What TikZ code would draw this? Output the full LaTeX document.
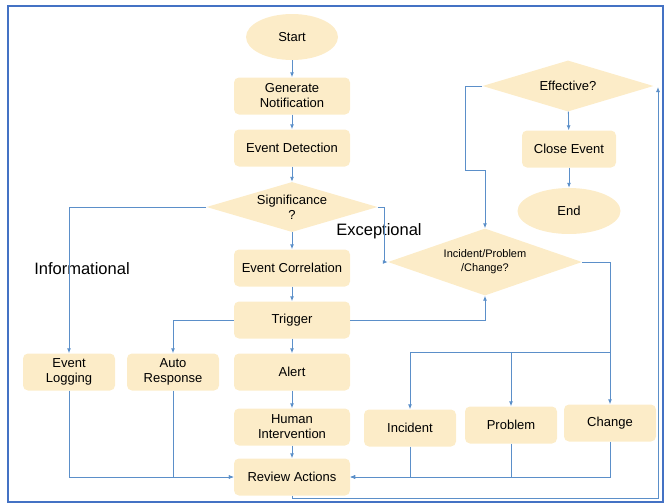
\documentclass[tikz,border=0pt]{standalone}
\usepackage{fontspec}
\setmainfont{Liberation Sans}
\usetikzlibrary{arrows.meta,shapes.geometric}
\definecolor{boxfill}{HTML}{FCECC8}
\definecolor{linkblue}{HTML}{5B8FC9}
\definecolor{frameblue}{HTML}{4472C4}
\begin{document}
\begin{tikzpicture}[x=1pt,y=-1pt,
  proc/.style={fill=boxfill, rounded corners=5pt, minimum width=116pt,
    minimum height=37pt, align=center, inner sep=1pt,
    font=\fontsize{13}{15}\selectfont},
  smallproc/.style={proc, minimum width=92pt},
  term/.style={ellipse, fill=boxfill, minimum width=92pt, minimum height=46pt,
    inner sep=0pt, font=\fontsize{13}{15}\selectfont},
  dia/.style={diamond, fill=boxfill, inner sep=0pt},
  diatext/.style={align=center, inner sep=0pt, font=\fontsize{13}{15}\selectfont},
  bigtext/.style={inner sep=0pt, font=\fontsize{16.5}{19}\selectfont},
  link/.style={draw=linkblue, line width=0.9pt},
  flow/.style={link, -{Latex[length=5pt,width=4pt]}}
]
\useasboundingbox (0,0) rectangle (665,504);
\draw[frameblue, line width=2pt] (8,6) rectangle (663,502);

% main column
\node[term] (start) at (292,37) {Start};
\node[proc] (gen) at (292,96) {Generate\\Notification};
\node[proc] (det) at (292,148) {Event Detection};
\node[dia, minimum width=171pt, minimum height=50pt] (sig) at (292,207) {};
\node[diatext] (sigtext) at (sig.center) {Significance\\?};
\node[proc] (corr) at (292,268) {Event Correlation};
\node[proc] (trig) at (292,320) {Trigger};
\node[proc] (alert) at (292,372) {Alert};
\node[proc] (human) at (292,427) {Human\\Intervention};
\node[proc] (review) at (292,477) {Review Actions};

% left branch
\node[smallproc] (logging) at (69,372) {Event\\Logging};
\node[smallproc] (auto) at (173,372) {Auto\\Response};

% right branch
\node[dia, minimum width=194pt, minimum height=67pt] (icp) at (485,262) {};
\node[diatext, font=\fontsize{11}{14}\selectfont] (icptext) at (icp.center)
  {Incident/Problem\\/Change?};
\node[smallproc] (incident) at (410,428) {Incident};
\node[smallproc] (problem) at (511,425) {Problem};
\node[smallproc] (change) at (610,423) {Change};

\node[dia, minimum width=171pt, minimum height=51pt] (eff) at (568,86) {};
\node[diatext] (efftext) at (eff.center) {Effective?};
\node[proc, minimum width=94pt] (close) at (569,149) {Close Event};
\node[term, minimum width=103pt] (endn) at (569,211) {End};

% branch labels
\node[bigtext] (lblexc) at (379,231) {Exceptional};
\node[bigtext] (lblinf) at (82,269) {Informational};

% helper points
\coordinate (bus) at (610,352);
\coordinate (loopturn) at (465,170);
\coordinate (retcorner) at (658,498);
\coordinate (rettop) at (658,87);

% main column arrows
\draw[flow] (start) -- (gen);
\draw[flow] (gen) -- (det);
\draw[flow] (det) -- (sig);
\draw[flow] (sig) -- (corr);
\draw[flow] (corr) -- (trig);
\draw[flow] (trig) -- (alert);
\draw[flow] (alert) -- (human);
\draw[flow] (human) -- (review);

% significance branches
\draw[flow] (sig.west) -| (logging.north);
\draw[flow] (sig.east) -- ++(7,0) |- (icp.west);
\draw[flow] (trig.east) -| (icp.south);
\draw[flow] (trig.west) -| (auto.north);
\draw[flow] (logging.south) |- (review.west);
\draw[flow] (auto.south) |- (review.west);

% incident / problem / change
\draw[link] (icp.east) -| (bus);
\draw[flow] (bus) -| (incident.north);
\draw[flow] (bus) -| (problem.north);
\draw[flow] (bus) -- (change.north);
\draw[flow] (incident.south) |- (review.east);
\draw[flow] (problem.south) |- (review.east);
\draw[flow] (change.south) |- (review.east);

% review loop and closure
\draw[flow] (review.south) |- (retcorner) -- (rettop);
\draw[flow] (eff.west) -| (loopturn) -| (icp.north);
\draw[flow] (eff) -- (close);
\draw[flow] (close) -- (endn);
\end{tikzpicture}
\end{document}
